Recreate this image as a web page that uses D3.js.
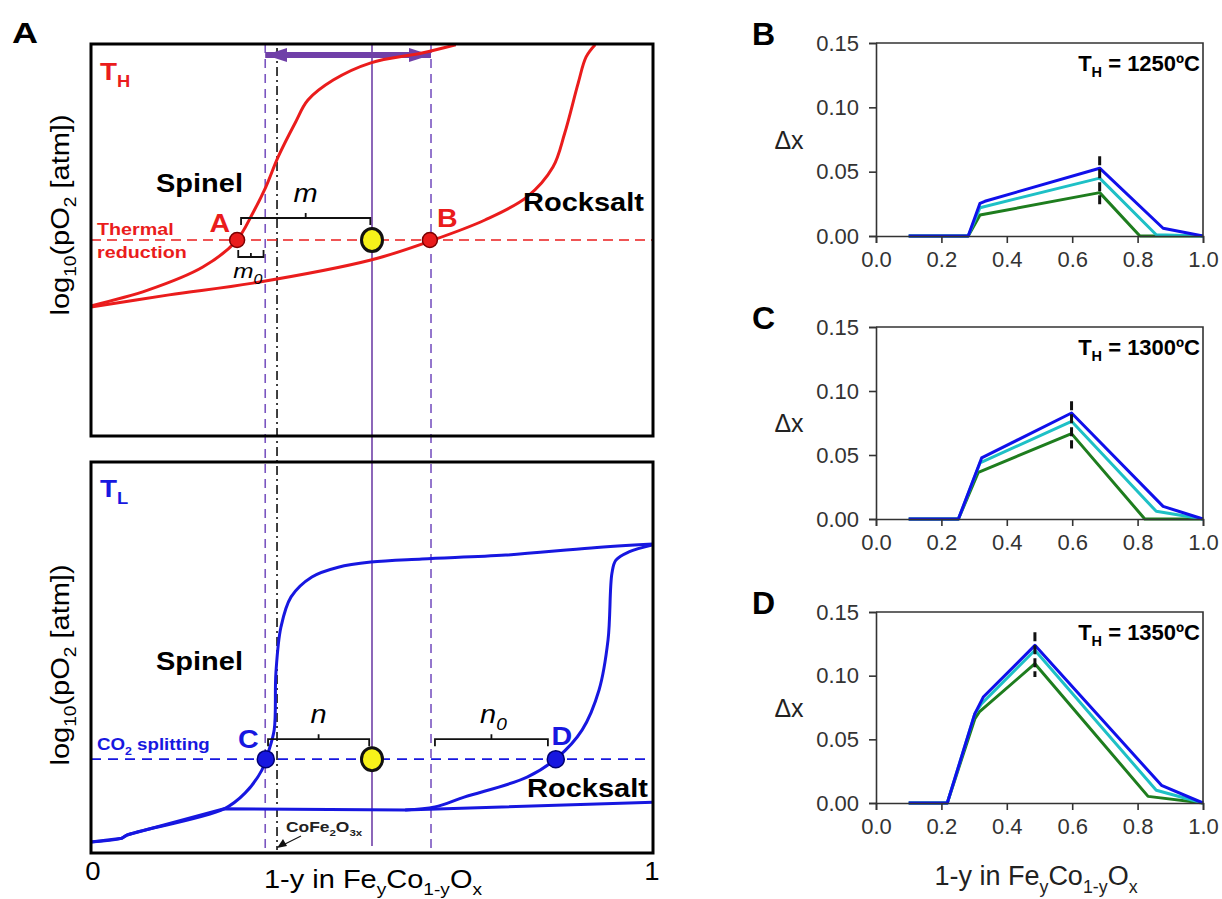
<!DOCTYPE html>
<html>
<head>
<meta charset="utf-8">
<script src="https://cdn.jsdelivr.net/npm/d3@7"></script>
<style>
  body { margin: 0; background: #fff; }
  svg { display: block; }
  text { font-family: "Liberation Sans", Arial, sans-serif; }
</style>
</head>
<body>
<div id="chart"></div>
<script>
// ---------- Panel A data (x = 1-y, y = relative log10 pO2, 0..1) ----------
const thSpinel = [[0, 0.332], [0.101, 0.372], [0.199, 0.431], [0.258, 0.497], [0.288, 0.569],
  [0.311, 0.635], [0.333, 0.712], [0.363, 0.798], [0.386, 0.857], [0.431, 0.908],
  [0.498, 0.952], [0.589, 0.977], [0.649, 0.998]];
const thRocksalt = [[0, 0.329], [0.139, 0.36], [0.288, 0.39], [0.498, 0.449], [0.603, 0.497],
  [0.701, 0.551], [0.776, 0.61], [0.822, 0.686], [0.843, 0.773], [0.867, 0.901],
  [0.881, 0.967], [0.897, 0.998]];
const tlSpinel = [[0, 0.028], [0.055, 0.038], [0.064, 0.046], [0.237, 0.113], [0.274, 0.153],
  [0.304, 0.212], [0.315, 0.256], [0.326, 0.315], [0.329, 0.46], [0.338, 0.578],
  [0.356, 0.655], [0.393, 0.706], [0.44, 0.731], [0.498, 0.744], [0.589, 0.752],
  [0.738, 0.762], [0.89, 0.78], [1, 0.79]];
const tlRocksaltLow = [[0, 0.028], [0.055, 0.038], [0.064, 0.046], [0.237, 0.113],
  [0.559, 0.11], [1, 0.13]];
const tlRocksaltUp = [[0.559, 0.11], [0.612, 0.118], [0.664, 0.143], [0.776, 0.194],
  [0.829, 0.243], [0.874, 0.315], [0.904, 0.417], [0.92, 0.545], [0.927, 0.716],
  [0.934, 0.749], [0.957, 0.77], [1, 0.788]];
const thLevel = 0.5;
const tlLevel = 0.24;
const thPoints = [{ name: "A", x: 0.26 }, { name: "B", x: 0.603 }];
const tlPoints = [{ name: "C", x: 0.311 }, { name: "D", x: 0.827 }];
const mixX = 0.5;            // yellow point / solid purple line
const dashedGuides = [0.31, 0.605];
const cofeGuide = 0.331;     // CoFe2O3x dash-dot line
const axisTicksA = [0, 1];

// ---------- Panels B-D data (x = 1-y, y = Δx) ----------
const compTicks = [0, 0.2, 0.4, 0.6, 0.8, 1.0];
const dxTicks = [0, 0.05, 0.10, 0.15];
const temps = ["1250", "1300", "1350"];
const bBlue = [[0.1, 0], [0.282, 0], [0.318, 0.0254], [0.333, 0.027], [0.684, 0.0527], [0.878, 0.006], [1, 0]];
const bCyan = [[0.1, 0], [0.282, 0], [0.318, 0.022], [0.684, 0.045], [0.857, 0.001], [1, 0]];
const bGreen = [[0.1, 0], [0.282, 0], [0.318, 0.0163], [0.684, 0.0337], [0.807, 0], [1, 0]];
const bMarker = [0.684, 0.024, 0.062];
const cBlue = [[0.1, 0], [0.252, 0], [0.323, 0.0477], [0.598, 0.0828], [0.878, 0.0099], [1, 0]];
const cCyan = [[0.1, 0], [0.252, 0], [0.318, 0.0438], [0.598, 0.0763], [0.857, 0.006], [1, 0]];
const cGreen = [[0.1, 0], [0.252, 0], [0.313, 0.0365], [0.598, 0.0667], [0.822, 0], [1, 0]];
const cMarker = [0.598, 0.055, 0.092];
const dBlue = [[0.1, 0], [0.218, 0], [0.302, 0.07], [0.328, 0.0832], [0.486, 0.1238], [0.873, 0.0139], [1, 0]];
const dCyan = [[0.1, 0], [0.218, 0], [0.302, 0.07], [0.323, 0.078], [0.486, 0.12], [0.857, 0.01], [1, 0]];
const dGreen = [[0.1, 0], [0.218, 0], [0.302, 0.066], [0.316, 0.0715], [0.486, 0.1094], [0.832, 0.0052], [1, 0]];
const dMarker = [0.486, 0.099, 0.134];

const RED = "#ea1c1c";
const BLUE = "#1717e0";
const PURPLE = "#7040a8";
const SX = 1.16; // panel A text is a bit wide in the original

const svg = d3.select("#chart").append("svg").attr("width", 1222).attr("height", 899);

// text with subscripts: plain strings are normal, [s] arrays are subscripts
function label(parent, x, y, parts, o = {}) {
  const size = o.size || 20;
  const t = parent.append("text")
    .attr("transform", `translate(${x},${y})${o.rotate ? " rotate(-90)" : ""} scale(${o.sx || 1},1)`)
    .attr("font-size", size)
    .attr("font-weight", o.bold ? "bold" : null)
    .attr("font-style", o.italic ? "italic" : null)
    .attr("fill", o.color || "#000")
    .attr("text-anchor", o.anchor || "start");
  let down = 0;
  parts.forEach((p) => {
    const sub = Array.isArray(p);
    const ts = t.append("tspan").text(sub ? p[0] : p);
    const shift = sub ? size * 0.28 : 0;
    if (shift !== down) ts.attr("dy", shift - down);
    down = shift;
    if (sub) ts.attr("font-size", size * 0.66);
  });
  return t;
}

// ================= Panel A =================
const ax = d3.scaleLinear().domain([0, 1]).range([91, 653]);
const ayTop = d3.scaleLinear().domain([0, 1]).range([436, 44]);
const ayBot = d3.scaleLinear().domain([0, 1]).range([853, 462]);

const curve = (ys, c) => d3.line().x((d) => ax(d[0])).y((d) => ys(d[1]))
  .curve(c || d3.curveCatmullRom.alpha(0.5));

const gA = svg.append("g");

// guide lines through both sub-panels
const gTop = ayTop(1), gBot = ayBot(0) - 3;
dashedGuides.forEach((g) => {
  gA.append("line").attr("x1", ax(g)).attr("x2", ax(g)).attr("y1", gTop).attr("y2", gBot)
    .attr("stroke", "#7a55c0").attr("stroke-width", 1.6).attr("stroke-dasharray", "9,6");
});
gA.append("line").attr("x1", ax(cofeGuide)).attr("x2", ax(cofeGuide)).attr("y1", gTop + 4).attr("y2", gBot)
  .attr("stroke", "#111").attr("stroke-width", 1.6).attr("stroke-dasharray", "9,4,2,4");
gA.append("line").attr("x1", ax(mixX)).attr("x2", ax(mixX)).attr("y1", gTop).attr("y2", gBot - 4)
  .attr("stroke", PURPLE).attr("stroke-width", 1.6);

// double arrow
const defs = svg.append("defs");
["start", "end"].forEach((k) => {
  defs.append("marker").attr("id", "arr-" + k)
    .attr("viewBox", "0 0 22 14").attr("refX", k === "end" ? 22 : 0).attr("refY", 7)
    .attr("markerWidth", 22).attr("markerHeight", 14).attr("markerUnits", "userSpaceOnUse")
    .attr("orient", "auto")
    .append("path").attr("d", k === "end" ? "M0,0 L22,7 L0,14 Z" : "M22,0 L0,7 L22,14 Z")
    .attr("fill", PURPLE);
});
gA.append("line").attr("x1", ax(dashedGuides[0])).attr("x2", ax(dashedGuides[1]))
  .attr("y1", ayTop(0.972)).attr("y2", ayTop(0.972))
  .attr("stroke", PURPLE).attr("stroke-width", 6)
  .attr("marker-start", "url(#arr-start)").attr("marker-end", "url(#arr-end)");

// reference levels
gA.append("line").attr("x1", ax(0)).attr("x2", ax(1)).attr("y1", ayTop(thLevel)).attr("y2", ayTop(thLevel))
  .attr("stroke", RED).attr("stroke-width", 1.6).attr("stroke-dasharray", "10,6");
gA.append("line").attr("x1", ax(0)).attr("x2", ax(1)).attr("y1", ayBot(tlLevel)).attr("y2", ayBot(tlLevel))
  .attr("stroke", BLUE).attr("stroke-width", 1.6).attr("stroke-dasharray", "10,7");

// curves
[thSpinel, thRocksalt].forEach((c) => {
  gA.append("path").datum(c).attr("d", curve(ayTop)).attr("fill", "none")
    .attr("stroke", RED).attr("stroke-width", 3);
});
[[tlSpinel], [tlRocksaltLow, d3.curveLinear], [tlRocksaltUp]].forEach(([c, k]) => {
  gA.append("path").datum(c).attr("d", curve(ayBot, k)).attr("fill", "none")
    .attr("stroke", BLUE).attr("stroke-width", 3).attr("stroke-linejoin", "round");
});

// brackets
function bracket(x0, x1, y, dir, tick) {
  // dir: +1 ends point down, -1 ends point up
  const xm = (ax(x0) + ax(x1)) / 2;
  gA.append("path")
    .attr("d", `M${ax(x0)},${y + dir * 7}V${y}H${ax(x1)}V${y + dir * 7}M${xm},${y}V${y - dir * tick}`)
    .attr("fill", "none").attr("stroke", "#111").attr("stroke-width", 1.8);
  return xm;
}
const mMid = bracket(0.267, 0.497, ayTop(thLevel) - 22, 1, 5);
const m0Mid = bracket(0.262, 0.307, ayTop(thLevel) + 17, -1, -4);
const nMid = bracket(0.315, 0.495, ayBot(tlLevel) - 20, 1, 5);
const n0Mid = bracket(0.612, 0.813, ayBot(tlLevel) - 20, 1, 5);

// points
gA.selectAll(".pth").data(thPoints).enter().append("circle")
  .attr("cx", (d) => ax(d.x)).attr("cy", ayTop(thLevel)).attr("r", 7.5)
  .attr("fill", RED).attr("stroke", "#7a0000").attr("stroke-width", 1.5);
gA.selectAll(".ptl").data(tlPoints).enter().append("circle")
  .attr("cx", (d) => ax(d.x)).attr("cy", ayBot(tlLevel)).attr("r", 8.5)
  .attr("fill", BLUE).attr("stroke", "#000070").attr("stroke-width", 1.5);
[ayTop(thLevel), ayBot(tlLevel)].forEach((cy) => {
  gA.append("ellipse").attr("cx", ax(mixX)).attr("cy", cy).attr("rx", 10.5).attr("ry", 11.5)
    .attr("fill", "#f7f21a").attr("stroke", "#111").attr("stroke-width", 3);
});

// frames
[ayTop, ayBot].forEach((ys) => {
  gA.append("rect").attr("x", ax(0)).attr("y", ys(1)).attr("width", ax(1) - ax(0))
    .attr("height", ys(0) - ys(1)).attr("fill", "none").attr("stroke", "#000").attr("stroke-width", 3);
});

// panel A text
label(gA, 12, 43, ["A"], { size: 30, bold: true, sx: 1.2 });
label(gA, 100, 80, ["T", ["H"]], { size: 24, bold: true, color: RED, sx: SX });
label(gA, 100, 497, ["T", ["L"]], { size: 24, bold: true, color: BLUE, sx: SX });
label(gA, 156, 192, ["Spinel"], { size: 25, bold: true, sx: SX });
label(gA, 523, 211, ["Rocksalt"], { size: 25, bold: true, sx: SX });
label(gA, 156, 670, ["Spinel"], { size: 25, bold: true, sx: SX });
label(gA, 527, 797, ["Rocksalt"], { size: 25, bold: true, sx: SX });
label(gA, 97, 235, ["Thermal"], { size: 17, bold: true, color: RED, sx: SX });
label(gA, 97, 258, ["reduction"], { size: 17, bold: true, color: RED, sx: SX });
label(gA, 97, 750, ["CO", ["2"], " splitting"], { size: 17, bold: true, color: BLUE, sx: 1.1 });
label(gA, ax(thPoints[0].x) - 7, ayTop(thLevel) - 8, ["A"], { size: 26, bold: true, color: RED, anchor: "end", sx: 1.1 });
label(gA, ax(thPoints[1].x) + 7, ayTop(thLevel) - 13, ["B"], { size: 26, bold: true, color: RED, sx: 1.1 });
label(gA, ax(tlPoints[0].x) - 7, ayBot(tlLevel) - 11, ["C"], { size: 26, bold: true, color: BLUE, anchor: "end", sx: 1.1 });
label(gA, ax(tlPoints[1].x) + 6, ayBot(tlLevel) - 14, ["D"], { size: 26, bold: true, color: BLUE, anchor: "middle", sx: 1.1 });
label(gA, mMid, ayTop(thLevel) - 38, ["m"], { size: 25, italic: true, anchor: "middle", sx: SX });
label(gA, m0Mid - 3, ayTop(thLevel) + 38, ["m", ["0"]], { size: 21, italic: true, anchor: "middle", sx: SX });
label(gA, nMid, ayBot(tlLevel) - 36, ["n"], { size: 25, italic: true, anchor: "middle", sx: SX });
label(gA, n0Mid + 2, ayBot(tlLevel) - 36, ["n", ["0"]], { size: 25, italic: true, anchor: "middle", sx: SX });
label(gA, 286, 832, ["CoFe", ["2"], "O", ["3x"]], { size: 15, bold: true, color: "#222", sx: SX });
gA.append("line").attr("x1", 301).attr("y1", 836).attr("x2", 285).attr("y2", 844)
  .attr("stroke", "#111").attr("stroke-width", 1.2);
gA.append("path").attr("d", "M277,848 L283,839 L287,846 Z").attr("fill", "#111");

// axis text
axisTicksA.forEach((t) => {
  label(gA, ax(t) + (t === 0 ? 2 : -1), 880, [String(t)], { size: 25, anchor: "middle", sx: 1.1 });
});
label(gA, 373, 888, ["1-y in Fe", ["y"], "Co", ["1-y"], "O", ["x"]], { size: 25, anchor: "middle", sx: SX });
[215, 665].forEach((cy) => {
  label(gA, 69, cy, ["log", ["10"], "(pO", ["2"], " [atm])"], { size: 25, anchor: "middle", rotate: true, sx: SX });
});

// ================= Panels B-D =================
const panels = [
  { label: "B", temp: temps[0], top: 43, bottom: 236, series: [bGreen, bCyan, bBlue], marker: bMarker },
  { label: "C", temp: temps[1], top: 327, bottom: 519, series: [cGreen, cCyan, cBlue], marker: cMarker },
  { label: "D", temp: temps[2], top: 612, bottom: 803, series: [dGreen, dCyan, dBlue], marker: dMarker },
];
const seriesColors = ["#1e7d1e", "#1ec0c6", "#1010ea"];
const x = d3.scaleLinear().domain([0, 1]).range([876, 1203]);

panels.forEach((p) => {
  const y = d3.scaleLinear().domain([0, 0.15]).range([p.bottom, p.top]);
  const g = svg.append("g");

  const line = d3.line().x((d) => x(d[0])).y((d) => y(d[1]));
  p.series.forEach((s, i) => {
    g.append("path").datum(s).attr("d", line).attr("fill", "none")
      .attr("stroke", seriesColors[i]).attr("stroke-width", 3).attr("stroke-linejoin", "round");
  });
  // marker at the optimum
  g.append("line").attr("x1", x(p.marker[0])).attr("x2", x(p.marker[0]))
    .attr("y1", y(p.marker[2])).attr("y2", y(p.marker[1]))
    .attr("stroke", "#111").attr("stroke-width", 3).attr("stroke-dasharray", "9,4");

  const xa = g.append("g").attr("transform", `translate(0,${p.bottom})`)
    .call(d3.axisBottom(x).tickValues(compTicks).tickFormat(d3.format(".1f")).tickSize(7).tickPadding(8));
  const ya = g.append("g").attr("transform", `translate(${x(0)},0)`)
    .call(d3.axisLeft(y).tickValues(dxTicks).tickFormat(d3.format(".2f")).tickSize(7).tickPadding(10));
  [xa, ya].forEach((a) => {
    a.selectAll("path, line").attr("stroke", "#333").attr("stroke-width", 1.6);
    a.selectAll("text").attr("font-size", 22).attr("fill", "#333")
      .attr("font-family", "'Liberation Sans', Arial, sans-serif");
  });
  // top and right frame
  g.append("path").attr("d", `M${x(0)},${y(0.15)}H${x(1)}V${y(0)}`)
    .attr("fill", "none").attr("stroke", "#333").attr("stroke-width", 1.6);

  label(g, 789, (p.top + p.bottom) / 2 + 9, ["Δx"], { size: 25, anchor: "middle", color: "#222" });
  label(g, 752, p.top + 2, [p.label], { size: 32, bold: true });
  label(g, 1200, p.top + 28, ["T", ["H"], " = " + p.temp + "ºC"], { size: 22, bold: true, anchor: "end" });
});

label(svg, 1036, 885, ["1-y in Fe", ["y"], "Co", ["1-y"], "O", ["x"]], { size: 27, anchor: "middle", color: "#222" });
</script>
</body>
</html>
